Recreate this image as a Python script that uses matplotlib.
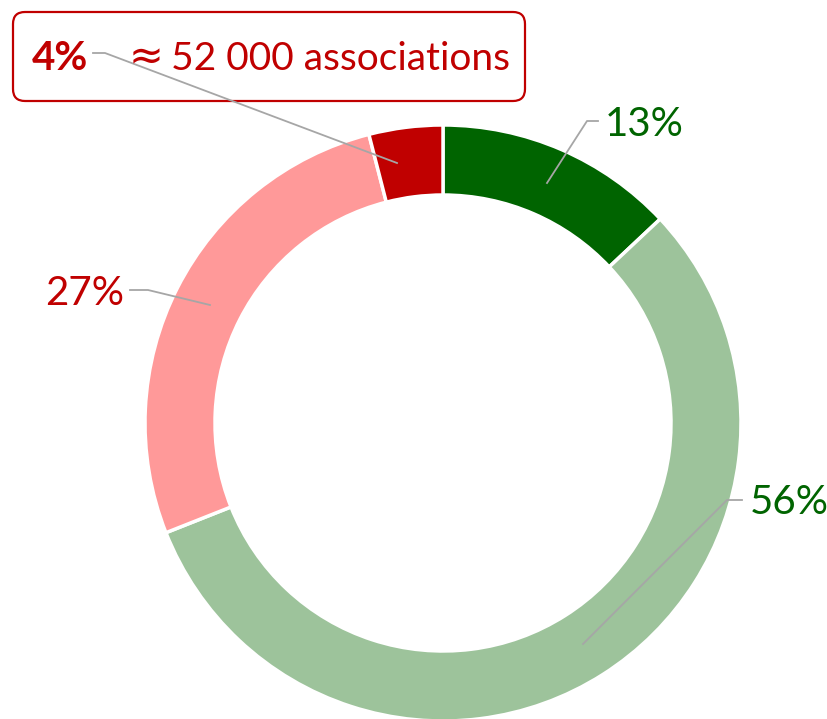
import matplotlib.pyplot as plt
from matplotlib.patches import FancyBboxPatch

shares = [13, 56, 27, 4]
colors = ['#006400', '#9DC39B', '#FF9999', '#C00000']
label_texts = ['13%', '56%', '27%', '4%']
label_colors = ['#006400', '#006400', '#C00000', '#C00000']
note = '52 000 associations'

W, H = 828, 719
plt.rcParams['font.family'] = ['Lato', 'DejaVu Sans']

fig = plt.figure(figsize=(W / 100, H / 100), dpi=100)
ax = fig.add_axes([0, 0, 1, 1])
ax.set_xlim(0, W)
ax.set_ylim(0, H)
ax.set_aspect('equal')
ax.axis('off')


def Y(y):
    # pixel row -> data y
    return H - y


cx, cy, r = 443, Y(423), 298
ax.pie(shares, colors=colors, startangle=90, counterclock=False,
       radius=r, center=(cx, cy),
       wedgeprops=dict(width=70, edgecolor='white', linewidth=2.5))
ax.set_xlim(0, W)
ax.set_ylim(0, H)

grey = '#A6A6A6'
# leader lines
ax.plot([547, 587, 598], [Y(183), Y(121), Y(121)], color=grey, lw=1.3)
ax.plot([583, 727, 742], [Y(644), Y(500), Y(500)], color=grey, lw=1.3)
ax.plot([210, 148, 130], [Y(305), Y(290), Y(290)], color=grey, lw=1.3)
ax.plot([397, 105, 93], [Y(163), Y(53), Y(53)], color=grey, lw=1.3)

fs = 29
ax.text(605, Y(124), label_texts[0], color=label_colors[0], fontsize=fs,
        ha='left', va='center')
ax.text(750, Y(503), label_texts[1], color=label_colors[1], fontsize=fs,
        ha='left', va='center')
ax.text(124, Y(294), label_texts[2], color=label_colors[2], fontsize=fs,
        ha='right', va='center')
ax.text(88, Y(59), label_texts[3], color=label_colors[3], fontsize=fs,
        fontweight='bold', ha='right', va='center')
ax.text(146, Y(57), '\u2248', color='#C00000', fontsize=30,
        family='DejaVu Sans', ha='center', va='center')
ax.text(510, Y(59), note, color='#C00000', fontsize=28,
        ha='right', va='center')

box = FancyBboxPatch((13, Y(101)), 512, 89,
                     boxstyle='round,pad=0,rounding_size=12',
                     facecolor='none', edgecolor='#C00000', lw=1.6)
ax.add_patch(box)

fig.savefig('out.png', dpi=100)
